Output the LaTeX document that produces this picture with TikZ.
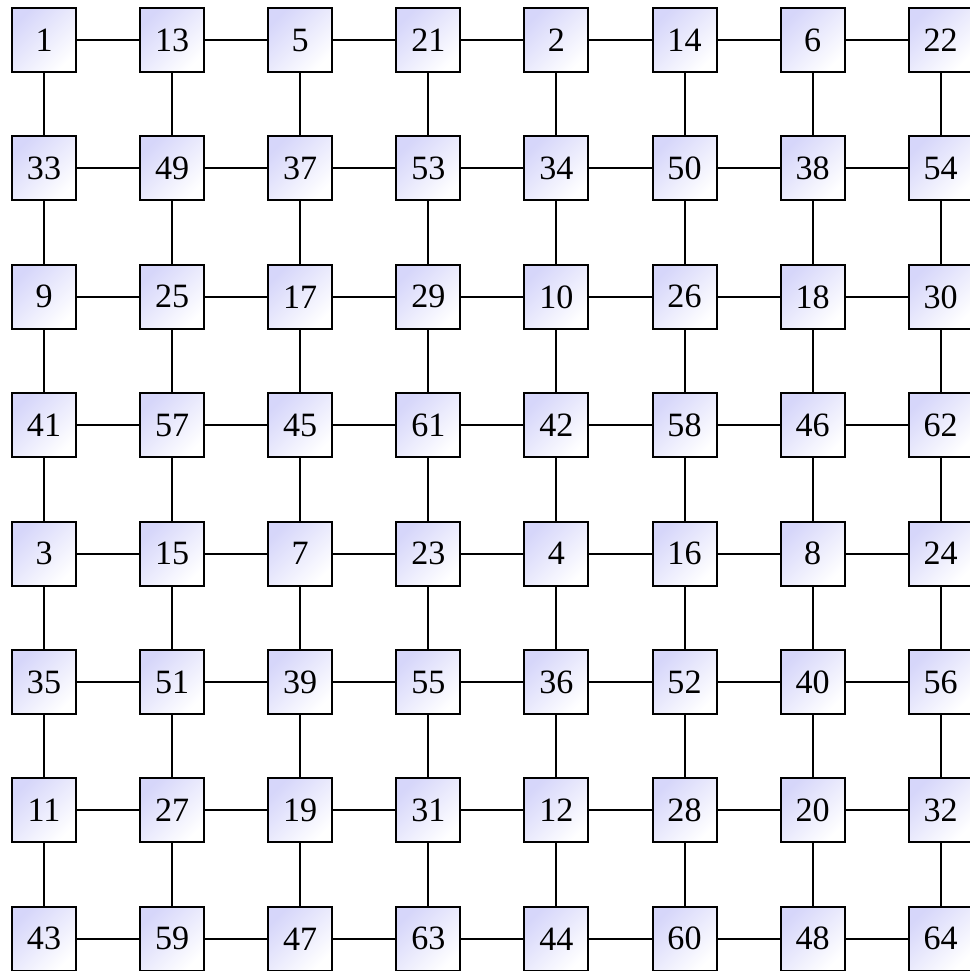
\documentclass[tikz,border=0pt]{standalone}
\usepackage{fontspec}
\setmainfont{Liberation Serif}
\usepackage{tikz}
\usetikzlibrary{positioning}
\definecolor{cellblue}{RGB}{214,214,250}

\begin{document}
\begin{tikzpicture}[x=1.321cm,y=-1.324cm,
    cell/.style={draw,line width=0.6pt,minimum size=0.66cm,inner sep=0pt,
      top color=cellblue,bottom color=white,shading angle=45,font=\fontsize{10}{12}\selectfont},
    link/.style={line width=0.6pt}]
  \useasboundingbox (-0.3437,-0.3119) rectangle (7.2262,7.2509);
  % cells, row by row
  \foreach \row [count=\r from 0] in {{1,13,5,21,2,14,6,22},{33,49,37,53,34,50,38,54},%
      {9,25,17,29,10,26,18,30},{41,57,45,61,42,58,46,62},{3,15,7,23,4,16,8,24},%
      {35,51,39,55,36,52,40,56},{11,27,19,31,12,28,20,32},{43,59,47,63,44,60,48,64}} {
    \foreach \lab [count=\c from 0] in \row {
      \node[cell] (n-\r-\c) at (\c,\r) {\lab};
    }
  }
  % horizontal and vertical links
  \foreach \r in {0,...,7} {
    \foreach \c in {0,...,6} {
      \pgfmathtruncatemacro{\d}{\c+1}
      \draw[link] (n-\r-\c) -- (n-\r-\d);
      \draw[link] (n-\c-\r) -- (n-\d-\r);
    }
  }
\end{tikzpicture}
\end{document}
